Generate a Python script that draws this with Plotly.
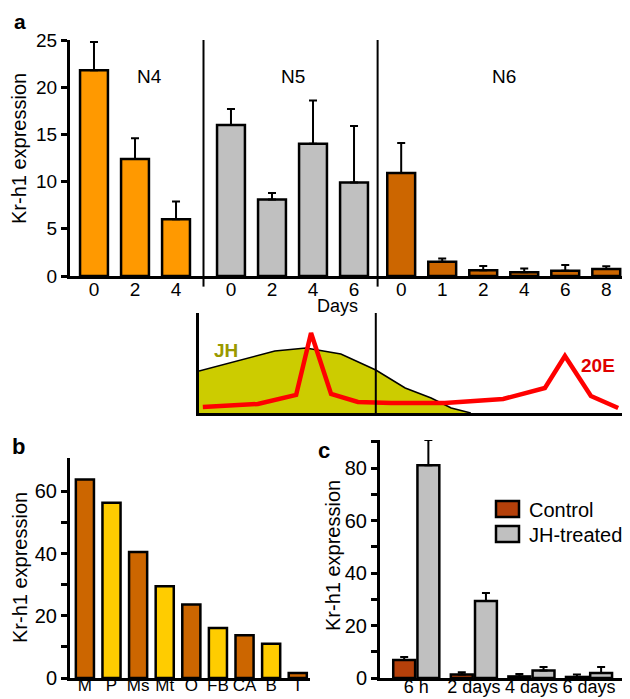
import plotly.graph_objects as go

W, H = 630, 699
FONT = "Liberation Sans, Arial, sans-serif"

# ---------------- Panel a data ----------------
stage_names = ["N4", "N5", "N6"]
n4_days = ["0", "2", "4"]
n4_mean = [21.8, 12.4, 6.0]
n4_err = [3.0, 2.2, 1.9]
n5_days = ["0", "2", "4", "6"]
n5_mean = [16.0, 8.1, 14.0, 9.9]
n5_err = [1.7, 0.7, 4.6, 6.0]
n6_days = ["0", "1", "2", "4", "6", "8"]
n6_mean = [10.9, 1.5, 0.6, 0.4, 0.56, 0.74]
n6_err = [3.2, 0.35, 0.45, 0.4, 0.6, 0.3]

# ---------------- Schematic (JH / 20E titres) ----------------
jh_t = [0, 17.8, 25.1, 33.3, 41.5, 48.4, 54.5, 59.2, 63.8]
jh_level = [42, 62, 65, 59, 43, 25, 15, 5, 0]
e20_t = [0.9, 13.8, 22.8, 26.3, 31.0, 37.3, 45.1, 57.7, 71.4, 81.2, 85.9, 92.0, 98.4]
e20_level = [6, 9, 18, 80, 19, 11, 10, 10, 14, 25, 57, 17, 5]
molt_t = 41.5

# ---------------- Panel b data ----------------
tissues = ["M", "P", "Ms", "Mt", "O", "FB", "CA", "B", "T"]
tissue_expr = [63.8, 56.3, 40.5, 29.5, 23.6, 16.1, 13.7, 11.0, 1.6]

# ---------------- Panel c data ----------------
times = ["6 h", "2 days", "4 days", "6 days"]
series_names = ["Control", "JH-treated"]
control_mean = [6.9, 1.3, 0.6, 0.4]
control_err = [1.1, 0.9, 0.9, 0.9]
jh_mean = [81.1, 29.3, 2.9, 1.9]
jh_err = [9.6, 3.1, 1.3, 2.3]

# ---------------- styling ----------------
stage_colors = ["#ff9900", "#c0c0c0", "#cc6600"]
tissue_colors = ["#cc6600", "#ffcc00"]
c_colors = ["#b5400a", "#c0c0c0"]
group_gaps = [0.0, 0.34, 0.49]


def px(x):
    return x / W


def py(y):
    return 1 - y / H


fig = go.Figure()

# ---- panel a bars ----
groups = [(n4_days, n4_mean, n4_err), (n5_days, n5_mean, n5_err), (n6_days, n6_mean, n6_err)]
all_pos, all_lab, group_pos = [], [], []
idx = 0
for g, (days, mean, err) in enumerate(groups):
    pos = [idx + i + group_gaps[g] for i in range(len(days))]
    idx += len(days)
    all_pos += pos
    all_lab += days
    group_pos.append(pos)
    fig.add_trace(go.Bar(
        x=pos, y=mean, width=0.68, xaxis="x", yaxis="y",
        marker=dict(color=stage_colors[g], line=dict(color="black", width=2.5)),
        error_y=dict(type="data", symmetric=False, array=err, arrayminus=[0] * len(err),
                     color="black", thickness=2, width=4),
        showlegend=False, name=stage_names[g]))

# ---- schematic ----
fig.add_trace(go.Scatter(x=jh_t, y=jh_level, xaxis="x2", yaxis="y2", mode="lines",
                         fill="tozeroy", fillcolor="#cccc00",
                         line=dict(color="black", width=1.5), showlegend=False, name="JH"))
fig.add_trace(go.Scatter(x=e20_t, y=e20_level, xaxis="x2", yaxis="y2", mode="lines",
                         line=dict(color="#ff0000", width=4.5), showlegend=False, name="20E",
                         cliponaxis=False))

# ---- panel b ----
fig.add_trace(go.Bar(
    x=tissues, y=tissue_expr, width=0.68, xaxis="x3", yaxis="y3",
    marker=dict(color=[tissue_colors[i % 2] if t != "T" else tissue_colors[0]
                       for i, t in enumerate(tissues)],
                line=dict(color="black", width=2.5)),
    showlegend=False))

# ---- panel c ----
for s, (mean, err, off) in enumerate([(control_mean, control_err, -0.40), (jh_mean, jh_err, 0.02)]):
    fig.add_trace(go.Bar(
        x=times, y=mean, width=0.38, offset=off, xaxis="x4", yaxis="y4",
        marker=dict(color=c_colors[s], line=dict(color="black", width=2.5)),
        error_y=dict(type="data", symmetric=False, array=err, arrayminus=[0] * len(err),
                     color="black", thickness=2, width=4),
        showlegend=False, name=series_names[s]))

axis_common = dict(showline=True, linecolor="black", linewidth=3, showgrid=False,
                   zeroline=False, mirror=False, automargin=False)
font_a = dict(size=19, color="black", family=FONT)
font_b = dict(size=17, color="black", family=FONT)
font_c = dict(size=18, color="black", family=FONT)
font_y = dict(size=20, color="black", family=FONT)

shapes = []
# separators between stages in panel a
for g in range(2):
    xm = (group_pos[g][-1] + group_pos[g + 1][0]) / 2
    shapes.append(dict(type="line", xref="x", yref="y domain", x0=xm, x1=xm, y0=-0.045, y1=1.0,
                       line=dict(color="black", width=2)))
# moult line in schematic
shapes.append(dict(type="line", xref="x2", yref="y2", x0=molt_t, x1=molt_t, y0=0, y1=100,
                   line=dict(color="black", width=2)))

annotations = []


def ann(text, x, y, size, color="black", bold=False, angle=0, xanchor="center", yanchor="middle"):
    annotations.append(dict(text=("<b>%s</b>" % text) if bold else text, x=px(x), y=py(y),
                            xref="paper", yref="paper", showarrow=False, textangle=angle,
                            xanchor=xanchor, yanchor=yanchor,
                            font=dict(size=size, color=color, family=FONT)))


ann("a", 12, 0, 21, bold=True, yanchor="top")
ann("b", 10, 438, 22, bold=True)
ann("c", 316, 442, 22, bold=True)
ann("Kr-h1 expression", 11, 141, 20, angle=-90)
ann("Kr-h1 expression", 12, 560, 20, angle=-90)
ann("Kr-h1 expression", 325, 548, 20, angle=-90)
ann("Days", 329, 298, 18)
ann("JH", 218, 342, 19, color="#999900", bold=True)
ann("20E", 590, 358, 19, color="#e00000", bold=True)

# stage labels
for g, name in enumerate(stage_names):
    xc = sum(group_pos[g]) / len(group_pos[g]) + (0.35 if g == 0 else 0)
    annotations.append(dict(text=name, x=xc, y=py(56), xref="x", yref="paper", showarrow=False,
                            font=dict(size=19, color="black", family=FONT)))

# custom legend for panel c
for s, name in enumerate(series_names):
    top = 493 + s * 25
    shapes.append(dict(type="rect", xref="paper", yref="paper", x0=px(488), x1=px(511),
                       y0=py(top), y1=py(top + 16), fillcolor=c_colors[s],
                       line=dict(color="black", width=2.5)))
    ann(name, 519, top + 9, 20, xanchor="left")

fig.update_layout(
    template="none",
    width=W, height=H, margin=dict(l=0, r=0, t=0, b=0, autoexpand=False),
    paper_bgcolor="white", plot_bgcolor="white", barmode="overlay",
    font=dict(family=FONT, color="black"),
    xaxis=dict(domain=[px(62), px(620)], range=[-0.585, 13.02], tickvals=all_pos, ticktext=all_lab,
               ticks="", anchor="y", tickangle=0, tickfont=font_a, ticklabelstandoff=-6, **axis_common),
    yaxis=dict(domain=[py(268), py(32)], range=[0, 25], tickvals=[0, 5, 10, 15, 20, 25],
               ticks="outside", ticklen=6, tickwidth=2.5, tickcolor="black", anchor="x",
               tickfont=font_a, **axis_common),
    xaxis2=dict(domain=[px(191), px(617)], range=[0, 100], showticklabels=False, ticks="",
                anchor="y2", **axis_common),
    yaxis2=dict(domain=[py(405), py(305)], range=[0, 100], showticklabels=False, ticks="",
                anchor="x2", **axis_common),
    xaxis3=dict(domain=[px(62), px(302)], range=[-0.56, 8.46], type="category", ticks="",
                anchor="y3", tickangle=0, tickfont=font_b, ticklabelstandoff=-10, **axis_common),
    yaxis3=dict(domain=[py(670), py(450)], range=[0, 70.7], tickvals=list(range(0, 70, 10)),
                ticktext=[str(v) if v % 20 == 0 else "" for v in range(0, 70, 10)],
                ticks="outside", ticklen=6, tickwidth=2.5, tickcolor="black", anchor="x3",
                tickfont=font_y, **axis_common),
    xaxis4=dict(domain=[px(372), px(615)], range=[-0.63, 3.59], type="category", ticks="",
                anchor="y4", tickangle=0, tickfont=font_c, ticklabelstandoff=-10, **axis_common),
    yaxis4=dict(domain=[py(670), py(432)], range=[0, 90.7], tickvals=list(range(0, 100, 10)),
                ticktext=[str(v) if v % 20 == 0 else "" for v in range(0, 100, 10)],
                ticks="outside", ticklen=6, tickwidth=2.5, tickcolor="black", anchor="x4",
                tickfont=font_y, **axis_common),
    shapes=shapes, annotations=annotations,
)

fig.write_html("out.html")
